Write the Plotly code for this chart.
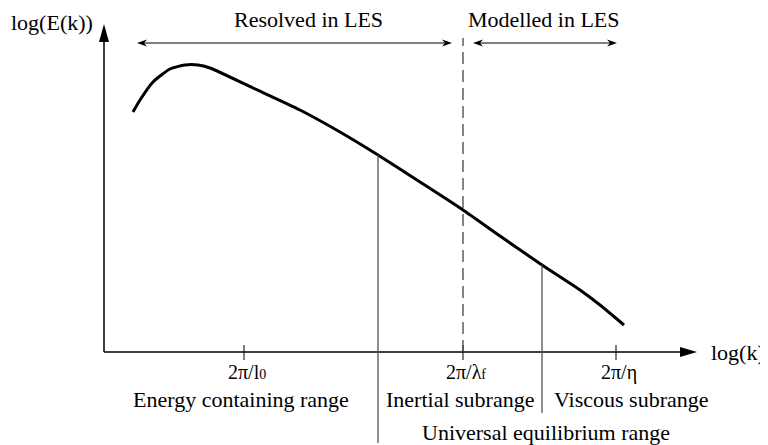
import numpy as np
import plotly.graph_objects as go

# ---- data (schematic units: 1 unit of log(k) / log(E) on the drawing) ----
curve_logk = [0.29, 0.36, 0.49, 0.66, 0.81, 0.94, 1.06, 1.49, 1.96, 2.36, 2.74, 3.16, 3.59, 3.96, 4.38, 4.76, 4.96, 5.20]
curve_logE = [2.40, 2.52, 2.70, 2.83, 2.87, 2.87, 2.84, 2.64, 2.42, 2.20, 1.97, 1.70, 1.42, 1.16, 0.87, 0.62, 0.47, 0.27]

tick_pos = [1.40, 3.59, 5.12]
tick_labels = [
    "2π/l<span style='font-size:14px'>0</span>",
    "2π/λ<span style='font-size:14px'>f</span>",
    "2π/η",
]
cutoff_logk = 3.59          # LES filter cutoff (dashed line)
range_bounds = [2.74, 4.38] # vertical separators
range_labels = ["Energy containing range", "Inertial subrange", "Viscous subrange"]
range_label_x = [1.37, 3.56, 5.27]
universal_label = "Universal equilibrium range"
universal_x = 4.42
les_labels = ["Resolved in LES", "Modelled in LES"]
les_label_x = [2.04, 4.40]
les_arrows = [(0.33, 3.48), (3.69, 5.13)]

x_axis_end = 5.93
y_axis_end = 3.28

FONT = "Liberation Serif"
FS = 22

fig = go.Figure()

# energy spectrum curve
fig.add_trace(go.Scatter(
    x=curve_logk, y=curve_logE, mode="lines",
    line=dict(color="black", width=3, shape="spline", smoothing=0.6),
    hoverinfo="skip", showlegend=False,
))

shapes = []
annotations = []

def head(tx, ty, dx, dy, length, half, notch=0.0):
    # arrowhead path with tip at (tx,ty) pointing along (dx,dy)
    px, py = -dy, dx
    bx, by = tx - dx * length, ty - dy * length
    p1 = (bx + px * half, by + py * half)
    p2 = (bx - px * half, by - py * half)
    nx, ny = tx - dx * length * (1 - notch), ty - dy * length * (1 - notch)
    return (f"M{tx},{ty} L{p1[0]},{p1[1]} L{nx},{ny} L{p2[0]},{p2[1]} Z")

# axes
shapes.append(dict(type="line", x0=0, y0=0, x1=x_axis_end - 0.1, y1=0, line=dict(color="black", width=1.5)))
shapes.append(dict(type="line", x0=0, y0=0, x1=0, y1=y_axis_end - 0.1, line=dict(color="black", width=1.5)))
shapes.append(dict(type="path", path=head(x_axis_end, 0, 1, 0, 0.17, 0.05), fillcolor="black", line=dict(width=0)))
shapes.append(dict(type="path", path=head(0, y_axis_end, 0, 1, 0.18, 0.05), fillcolor="black", line=dict(width=0)))

# ticks
for xp in tick_pos:
    shapes.append(dict(type="line", x0=xp, y0=0.07, x1=xp, y1=-0.08, line=dict(color="black", width=1)))

# dashed cutoff line
shapes.append(dict(type="line", x0=cutoff_logk, y0=0, x1=cutoff_logk, y1=3.14,
                   line=dict(color="#444444", width=1.3, dash="12px,6px")))

# vertical range separators (start at the curve)
sep_bottom = [-0.91, -0.61]
for xb, yb in zip(range_bounds, sep_bottom):
    ytop = float(np.interp(xb, curve_logk, curve_logE))
    shapes.append(dict(type="line", x0=xb, y0=ytop, x1=xb, y1=yb, line=dict(color="#555555", width=1.3)))

# LES double arrows
ay = 3.09
for (a, b) in les_arrows:
    shapes.append(dict(type="line", x0=a + 0.05, y0=ay, x1=b - 0.05, y1=ay, line=dict(color="black", width=1)))
    shapes.append(dict(type="path", path=head(b, ay, 1, 0, 0.10, 0.035, notch=0.3), fillcolor="black", line=dict(width=0)))
    shapes.append(dict(type="path", path=head(a, ay, -1, 0, 0.10, 0.035, notch=0.3), fillcolor="black", line=dict(width=0)))

def txt(x, y, s, xanchor="center", size=FS):
    annotations.append(dict(x=x, y=y, text=s, showarrow=False, xanchor=xanchor, yanchor="middle",
                            font=dict(family=FONT, size=size, color="black")))

txt(-0.95, 3.30, "log(E(k))", xanchor="left")
txt(6.63, 0.0, "log(k)", xanchor="right")
for xl, s in zip(les_label_x, les_labels):
    txt(xl, 3.33, s)
for xp, s in zip(tick_pos, tick_labels):
    txt(xp + 0.03, -0.20, s, size=20)
for xl, s in zip(range_label_x, range_labels):
    txt(xl, -0.47, s)
txt(universal_x, -0.80, universal_label)

# the page body adds an 8px margin; shift the ranges so the drawing lands where the reference has it
fig.update_layout(
    width=768, height=445,
    margin=dict(l=0, r=0, t=0, b=0),
    paper_bgcolor="white", plot_bgcolor="white",
    xaxis=dict(range=[-0.96, 6.72], visible=False, fixedrange=True),
    yaxis=dict(range=[-1.01, 3.44], visible=False, fixedrange=True),
    shapes=shapes, annotations=annotations,
    showlegend=False,
)

fig.write_html("out.html")
